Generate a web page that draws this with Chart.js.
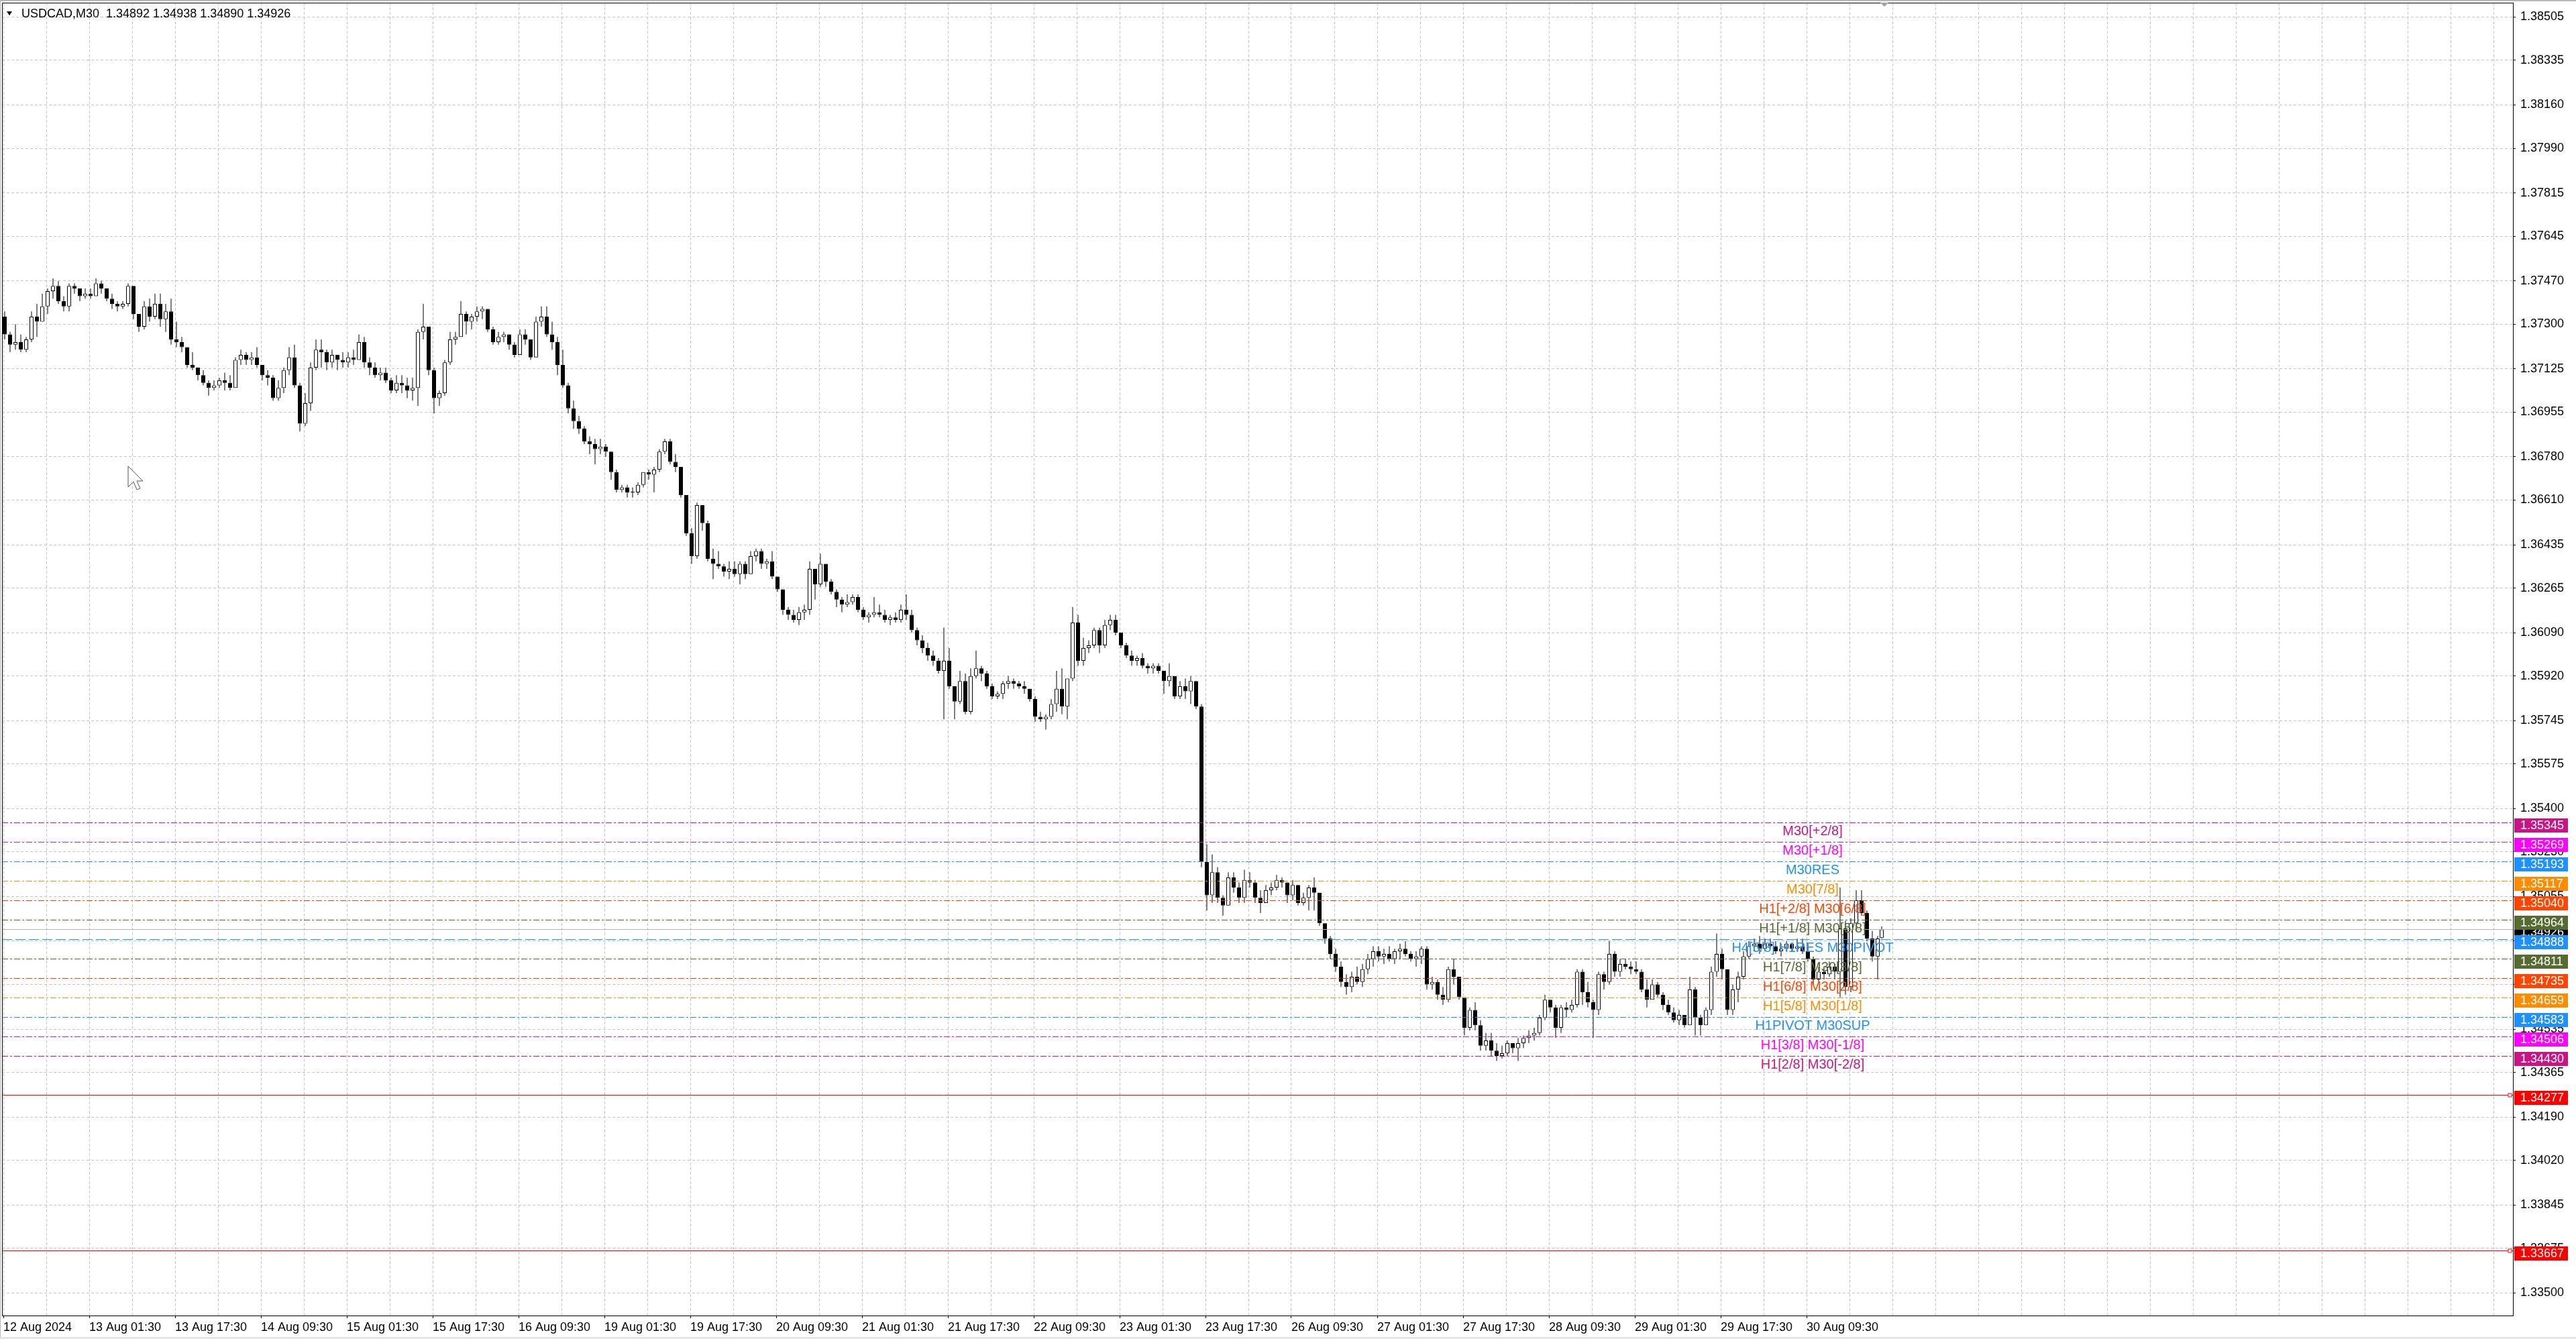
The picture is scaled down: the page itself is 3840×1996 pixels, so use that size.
<!DOCTYPE html>
<html lang="en">
<head>
<meta charset="UTF-8">
<title>USDCAD,M30</title>
<script src="https://cdn.jsdelivr.net/npm/chart.js"></script>
<style>
  html, body { margin: 0; padding: 0; background: #fff; overflow: hidden; }
  canvas { display: block; }
</style>
</head>
<body>
<canvas id="chart" width="3840" height="1996"></canvas>
<script>
// USDCAD M30, 12 Aug 09:30 .. 30 Aug 23:30, one hour at a time.
// Prices are pips above 1.3000 (733 = 1.3733).
const openP = [
  733,726,722,723,720,724,733,731,737,743, 745,739,737,745,744,741,742,741,746,744,
  740,738,737,738,745,734,729,737,733,738, 732,735,724,723,721,714,713,710,707,705,
  706,708,707,705,716,718,716,717,714,710, 709,701,705,712,717,706,691,699,713,720,
  719,715,718,716,715,717,716,723,715,713, 710,711,708,704,707,706,704,705,727,729,
  712,701,703,715,724,725,734,731,733,735, 736,728,723,725,726,722,718,726,724,717,
  731,733,726,723,714,706,697,692,689,684, 683,681,682,680,672,665,666,664,664,667,
  672,671,673,680,684,676,674,663,648,639, 659,652,638,636,635,633,634,632,636,632,
  639,641,636,637,631,626,618,616,614,617, 618,634,628,636,629,625,622,620,621,623,
  618,615,616,617,616,614,615,614,618,616, 610,606,603,600,598,594,598,588,582,590,
  578,592,595,593,588,584,585,589,590,589, 588,587,583,576,575,576,581,587,580,591,
  613,598,603,604,610,604,612,614,609,604, 600,598,599,596,595,596,594,590,592,584,
  588,586,590,580,519,506,515,505,502,513, 509,505,512,511,505,503,508,509,512,511,
  506,510,503,505,509,507,495,489,483,478, 472,470,474,472,477,481,484,482,483,481,
  484,485,483,481,482,485,471,472,467,465, 477,474,466,454,461,455,447,449,445,443,
  444,448,446,448,450,451,452,458,465,462, 454,462,461,463,476,468,464,461,475,472,
  483,476,479,478,477,476,469,465,471,467, 463,460,457,459,455,469,458,455,461,476,
  483,477,461,469,474,482,486,487,485,487, 486,484,485,487,485,486,484,481,473,476,
  475,478,476,493,470,495,504,499,489,482, 489.2
];
const highP = [
  735,727,730,726,725,735,738,742,744,748, 747,741,746,746,744,744,744,748,747,744,
  742,739,739,746,745,734,739,740,742,742, 738,740,731,725,721,719,713,712,708,708,
  709,711,710,717,720,719,719,721,714,712, 710,708,713,721,722,707,703,715,724,724,
  720,720,718,719,719,720,726,725,717,715, 713,713,709,710,710,709,709,728,738,729,
  713,704,716,727,727,739,735,734,737,737, 736,729,727,727,726,723,728,728,724,733,
  737,737,731,725,720,707,700,694,690,686, 685,685,683,680,673,667,667,666,668,672,
  673,674,681,685,685,679,674,663,650,660, 659,653,642,641,636,637,637,637,637,641,
  642,642,638,641,631,626,619,618,619,620, 637,634,640,636,630,626,623,624,624,624,
  619,617,623,620,618,616,617,620,624,618, 611,608,605,602,599,611,603,588,594,593,
  595,602,596,594,589,586,590,592,591,590, 590,587,584,578,577,583,594,595,591,619,
  616,607,606,611,611,614,616,616,609,605, 602,600,601,597,597,597,594,597,592,590,
  591,592,590,581,526,522,517,506,515,515, 511,516,515,512,508,510,511,514,513,511,
  512,510,507,510,513,507,495,490,485,480, 475,476,478,479,483,486,486,485,486,485,
  487,488,484,484,486,486,474,473,470,478, 481,474,466,462,464,457,452,452,448,447,
  449,448,450,451,453,454,459,467,465,463, 463,464,465,477,477,472,465,476,476,488,
  484,481,481,480,480,477,473,473,472,468, 465,462,461,459,474,470,459,462,478,491,
  485,477,471,476,484,488,489,490,489,489, 488,487,488,487,489,489,487,482,478,478,
  480,479,509,496,497,508,508,500,492,490, 493.8
];
const lowP = [
  724,719,720,719,719,723,725,731,734,740, 738,735,735,742,739,740,740,741,742,739,
  736,735,736,737,732,727,728,731,732,729, 727,722,721,719,713,712,708,706,702,704,
  705,704,704,705,714,714,714,713,708,706, 700,700,703,710,705,688,690,696,712,713,
  712,713,712,713,713,714,716,713,710,709, 708,707,703,703,703,701,700,698,724,710,
  695,698,702,714,722,725,726,728,731,732, 727,722,722,723,720,717,718,722,716,717,
  729,725,720,710,705,695,689,687,683,679, 675,679,678,669,664,664,662,662,663,666,
  669,664,672,679,675,672,662,647,636,638, 649,637,630,634,631,630,631,628,630,632,
  637,634,634,630,625,616,614,613,612,614, 616,622,627,627,624,619,617,619,620,617,
  614,613,615,615,613,612,613,613,614,609, 604,601,598,596,593,575,587,575,581,577,
  577,591,590,587,583,583,583,587,587,587, 585,582,574,574,571,575,578,577,575,590,
  596,596,601,603,601,603,610,608,603,599, 596,596,595,593,593,593,585,588,583,583,
  583,581,579,517,500,503,503,498,502,507, 503,503,509,503,499,503,506,508,509,503,
  504,502,502,500,500,494,487,481,476,470, 467,468,471,470,475,478,480,479,480,479,
  481,482,480,478,479,469,469,465,463,464, 471,465,451,453,453,445,445,443,441,442,
  443,444,441,446,448,449,451,457,460,450, 452,458,460,462,463,462,450,459,469,471,
  474,474,477,475,475,468,462,465,466,461, 459,456,455,454,455,451,451,455,459,474,
  473,459,459,464,473,481,484,483,484,485, 483,482,484,484,484,483,480,471,472,473,
  474,473,466,467,468,492,498,488,480,473, 489.0
];
const closeP = [
  726,722,723,720,724,733,731,737,743,745, 739,737,745,744,741,742,741,746,744,740,
  738,737,738,745,734,729,737,733,738,732, 735,724,723,721,714,713,710,707,705,706,
  708,707,705,716,718,716,717,714,710,709, 701,705,712,717,706,691,699,713,720,719,
  715,718,716,715,717,716,723,715,713,710, 711,708,704,707,706,704,705,727,729,712,
  701,703,715,724,725,734,731,733,735,736, 728,723,725,726,722,718,726,724,717,731,
  733,726,723,714,706,697,692,689,684,683, 681,682,680,672,665,666,664,664,667,672,
  671,673,680,684,676,674,663,648,639,659, 652,638,636,635,633,634,632,636,632,639,
  641,636,637,631,626,618,616,614,617,618, 634,628,636,629,625,622,620,621,623,618,
  615,616,617,616,614,615,614,618,616,610, 606,603,600,598,594,598,588,582,590,578,
  592,595,593,588,584,585,589,590,589,588, 587,583,576,575,576,581,587,580,591,613,
  598,603,604,610,604,612,614,609,604,600, 598,599,596,595,596,594,590,592,584,588,
  586,590,580,519,506,515,505,502,513,509, 505,512,511,505,503,508,509,512,511,506,
  510,503,505,509,507,495,489,483,478,472, 470,474,472,477,481,484,482,483,481,484,
  485,483,481,482,485,471,472,467,465,477, 474,466,454,461,455,447,449,445,443,444,
  448,446,448,450,451,452,458,465,462,454, 462,461,463,476,468,464,461,475,472,483,
  476,479,478,477,476,469,465,471,467,463, 460,457,459,455,469,458,455,461,476,483,
  477,461,469,474,482,486,487,485,487,486, 484,485,487,485,486,484,481,473,476,475,
  478,476,493,470,495,504,499,489,482,489, 492.6
];

// time axis: one label every 32 M30 bars
const xTickLabels = [
  '12 Aug 2024', '13 Aug 01:30', '13 Aug 17:30', '14 Aug 09:30', '15 Aug 01:30', '15 Aug 17:30',
  '16 Aug 09:30', '19 Aug 01:30', '19 Aug 17:30', '20 Aug 09:30', '21 Aug 01:30', '21 Aug 17:30',
  '22 Aug 09:30', '23 Aug 01:30', '23 Aug 17:30', '26 Aug 09:30', '27 Aug 01:30', '27 Aug 17:30',
  '28 Aug 09:30', '29 Aug 01:30', '29 Aug 17:30', '30 Aug 09:30'
];
const yTickValues = [
  1.38505, 1.38335, 1.38160, 1.37990, 1.37815, 1.37645, 1.37470, 1.37300, 1.37125, 1.36955,
  1.36780, 1.36610, 1.36435, 1.36265, 1.36090, 1.35920, 1.35745, 1.35575, 1.35400, 1.35230,
  1.35055, 1.34880, 1.34710, 1.34535, 1.34365, 1.34190, 1.34020, 1.33845, 1.33675, 1.33500
];

// Murrey / pivot levels drawn by the indicator
const levelPrices = [1.35345, 1.35269, 1.35193, 1.35117, 1.35040, 1.34964, 1.34888,
                     1.34811, 1.34735, 1.34659, 1.34583, 1.34506, 1.34430];
const levelNames = ['M30[+2/8]', 'M30[+1/8]', 'M30RES', 'M30[7/8]', 'H1[+2/8] M30[6/8]',
                    'H1[+1/8] M30[5/8]', 'H4[5/8] H1RES M30PIVOT', 'H1[7/8] M30[3/8]',
                    'H1[6/8] M30[2/8]', 'H1[5/8] M30[1/8]', 'H1PIVOT M30SUP',
                    'H1[3/8] M30[-1/8]', 'H1[2/8] M30[-2/8]'];
const levelColors = ['#C71585', '#FF00FF', '#1E90FF', '#FF8C00', '#FF4500', '#556B2F', '#1E90FF',
                     '#556B2F', '#FF4500', '#FF8C00', '#1E90FF', '#FF00FF', '#C71585'];
const stopPrices = [1.34277, 1.33667];
const bidPrice = 1.34926;
const lastBar = ['1.34892', '1.34938', '1.34890', '1.34926'];

const FONT = '"Liberation Sans", Arial, sans-serif';
Chart.defaults.font.family = FONT;

const toPrice = p => 1.3 + p / 10000;
// hourly candle j covers M30 bars 2j and 2j+1; the last one is a single bar
const barX = j => (j === closeP.length - 1 ? 2 * j : 2 * j + 0.5);

const bodies = closeP.map((c, j) => ({ x: barX(j), y: [toPrice(openP[j]), toPrice(c)], up: c >= openP[j] }));
const wicks = closeP.map((c, j) => ({ x: barX(j), y: [toPrice(lowP[j]), toPrice(highP[j])] }));

const gridSteps = [];
for (let v = 0; v <= 928; v += 16) gridSteps.push(v);

function hline(ctx, x1, x2, y) {
  ctx.beginPath();
  ctx.moveTo(x1, y);
  ctx.lineTo(x2, y);
  ctx.stroke();
}

const mt4Overlay = {
  id: 'mt4Overlay',
  beforeDraw(chart) {
    const ctx = chart.ctx;
    ctx.save();
    ctx.fillStyle = '#fff';
    ctx.fillRect(0, 0, chart.width, chart.height);
    ctx.restore();
  },
  afterDatasetsDraw(chart) {
    const { ctx, chartArea: a, scales: { x, y } } = chart;
    ctx.save();
    ctx.beginPath();
    ctx.rect(a.left, a.top, a.right - a.left, a.bottom - a.top);
    ctx.clip();
    ctx.lineWidth = 1;

    // bid line
    ctx.strokeStyle = '#b4b4b4';
    ctx.setLineDash([]);
    hline(ctx, a.left, a.right, Math.round(y.getPixelForValue(bidPrice)) + 0.5);

    // level lines
    levelPrices.forEach((p, i) => {
      const py = Math.round(y.getPixelForValue(p)) + 0.5;
      ctx.strokeStyle = levelColors[i];
      ctx.setLineDash(i === 6 ? [15, 5] : [9, 3, 3, 3]);
      hline(ctx, a.left, a.right, py);
    });

    // stop lines
    ctx.setLineDash([]);
    stopPrices.forEach(p => {
      const py = Math.round(y.getPixelForValue(p)) + 0.5;
      ctx.strokeStyle = '#FF0000';
      hline(ctx, a.left, a.right, py);
      ctx.fillStyle = '#fff';
      ctx.fillRect(a.right - 7, py - 2.5, 5, 5);
      ctx.strokeRect(a.right - 7, py - 2.5, 5, 5);
    });

    // level captions
    const lx = x.getPixelForValue(674.25);
    ctx.font = '20px ' + FONT;
    ctx.textAlign = 'center';
    ctx.textBaseline = 'alphabetic';
    levelPrices.forEach((p, i) => {
      ctx.fillStyle = levelColors[i];
      ctx.fillText(levelNames[i], lx, Math.round(y.getPixelForValue(p)) + 19);
    });

    // mouse pointer left on the chart
    const cx = x.getPixelForValue(46.5), cy = y.getPixelForValue(1.36743);
    const arrow = [[0, 0], [0, 31], [8, 23], [13, 35], [18, 33], [13, 22], [22, 22]];
    ctx.beginPath();
    arrow.forEach(([dx, dy], k) => (k ? ctx.lineTo(cx + dx, cy + dy) : ctx.moveTo(cx + dx, cy + dy)));
    ctx.closePath();
    ctx.fillStyle = '#fff';
    ctx.fill();
    ctx.strokeStyle = '#555';
    ctx.stroke();
    ctx.restore();
  },
  afterDraw(chart) {
    const { ctx, chartArea: a, scales: { x, y } } = chart;
    ctx.save();

    // window frame and chart border
    ctx.fillStyle = '#b8b8b8';
    ctx.fillRect(0, 0, chart.width, 2);
    ctx.fillRect(0, 0, 1, chart.height);
    ctx.fillStyle = '#e4e4e4';
    ctx.fillRect(0, chart.height - 3, chart.width, 3);
    ctx.strokeStyle = '#000';
    ctx.lineWidth = 1;
    ctx.setLineDash([]);
    ctx.beginPath();
    ctx.moveTo(a.left + 0.5, a.bottom);
    ctx.lineTo(a.left + 0.5, a.top + 0.5);
    ctx.lineTo(a.right, a.top + 0.5);
    ctx.stroke();

    // chart shift marker
    const sx = x.getPixelForValue(701);
    ctx.fillStyle = '#a0a0a0';
    ctx.beginPath();
    ctx.moveTo(sx - 6, a.top);
    ctx.lineTo(sx + 6, a.top);
    ctx.lineTo(sx, a.top + 6);
    ctx.closePath();
    ctx.fill();

    // price boxes on the axis
    ctx.font = '18px ' + FONT;
    ctx.textAlign = 'left';
    ctx.textBaseline = 'middle';
    const box = (p, bg) => {
      const py = Math.round(y.getPixelForValue(p));
      ctx.fillStyle = bg;
      ctx.fillRect(a.right + 2, py - 6, 80, 21);
      ctx.fillStyle = '#fff';
      ctx.fillText(p.toFixed(5), a.right + 11, py + 5);
    };
    box(bidPrice, '#000');
    levelPrices.forEach((p, i) => box(p, levelColors[i]));
    stopPrices.forEach(p => box(p, '#FF0000'));

    // title
    ctx.fillStyle = '#000';
    ctx.beginPath();
    ctx.moveTo(10, 17);
    ctx.lineTo(18, 17);
    ctx.lineTo(14, 23);
    ctx.closePath();
    ctx.fill();
    ctx.font = '18px ' + FONT;
    ctx.textBaseline = 'middle';
    ctx.fillText('USDCAD,M30  ' + lastBar.join(' '), 32, 21);
    ctx.restore();
  }
};

new Chart(document.getElementById('chart'), {
  type: 'bar',
  data: {
    datasets: [
      {
        data: bodies,
        barThickness: 6,
        grouped: false,
        backgroundColor: c => (c.raw && c.raw.up ? '#fff' : '#000'),
        borderColor: '#000',
        borderWidth: 1,
        borderSkipped: false,
        inflateAmount: 0,
        minBarLength: 1
      },
      {
        data: wicks,
        barThickness: 1,
        grouped: false,
        backgroundColor: '#000',
        borderWidth: 0,
        inflateAmount: 0
      }
    ]
  },
  options: {
    responsive: false,
    animation: false,
    devicePixelRatio: 1,
    events: [],
    layout: { padding: { left: 3, top: 4, right: 0, bottom: 0 } },
    plugins: { legend: { display: false }, tooltip: { enabled: false } },
    scales: {
      x: {
        type: 'linear',
        min: -0.5,
        max: 935.25,
        offset: false,
        afterBuildTicks: s => { s.ticks = gridSteps.map(v => ({ value: v })); },
        afterFit: s => { s.height = 35; s.paddingLeft = 0; s.paddingRight = 0; },
        grid: {
          offset: false,
          color: '#c4c4c4',
          tickLength: 4,
          tickColor: c => (c.tick && c.tick.value % 32 === 0 && xTickLabels[c.tick.value / 32] ? '#000' : 'rgba(0,0,0,0)')
        },
        border: { color: '#000', width: 1, dash: [4, 3] },
        ticks: {
          autoSkip: false,
          maxRotation: 0,
          minRotation: 0,
          align: 'start',
          padding: 3,
          color: '#000',
          font: { size: 18 },
          callback: v => (v % 32 === 0 ? (xTickLabels[v / 32] || '') : '')
        }
      },
      y: {
        position: 'right',
        min: 1.334114,
        max: 1.385613,
        afterBuildTicks: s => { s.ticks = yTickValues.map(v => ({ value: v })); },
        afterFit: s => { s.width = 94; s.paddingTop = 0; s.paddingBottom = 0; },
        grid: { color: '#c4c4c4', tickLength: 4, tickColor: '#000' },
        border: { color: '#000', width: 1, dash: [4, 3] },
        ticks: { padding: 7, color: '#000', font: { size: 18 }, callback: v => v.toFixed(5) }
      }
    }
  },
  plugins: [mt4Overlay]
});
</script>
</body>
</html>
